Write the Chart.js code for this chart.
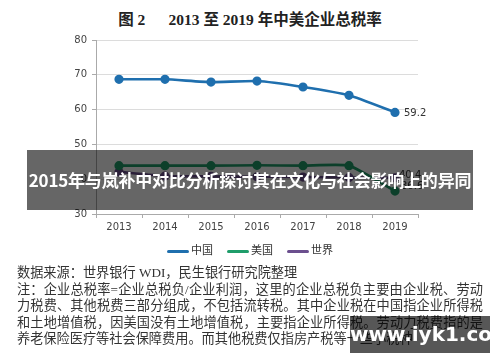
<!DOCTYPE html>
<html><head><meta charset="utf-8">
<script src="https://cdn.jsdelivr.net/npm/chart.js@4"></script>
<style>
html,body{margin:0;padding:0;background:#fff;}
#wrap{position:relative;width:500px;height:362px;overflow:hidden;background:#fff;}
#title{position:absolute;left:0;top:7px;width:500px;text-align:center;font:bold 15.5px "Liberation Serif","Noto Sans CJK SC",serif;color:#222;white-space:pre;}
#cv{position:absolute;left:0;top:0;}
#legend{position:absolute;left:0;top:241px;width:500px;text-align:center;font:11px "Noto Sans CJK SC",sans-serif;color:#333;}
#legend span.it{display:inline-block;margin:0 7px;}
#legend i{display:inline-block;width:22px;height:3px;vertical-align:middle;margin-right:2px;border-radius:2px;}
#notes{position:absolute;left:17px;top:265px;width:466px;font:13.2px "Liberation Serif","Noto Sans CJK SC",serif;color:#333;line-height:16.6px;}
#notes div{white-space:nowrap;text-align:justify;text-align-last:justify;}
#notes div.l{text-align-last:left;}
#banner{position:absolute;left:27px;top:150px;width:446px;height:60px;background:rgba(0,0,0,0.6);color:#fff;font:bold 17px "Noto Sans CJK SC",sans-serif;text-align:center;line-height:60px;white-space:nowrap;letter-spacing:-0.2px;}
#wm{position:absolute;left:350px;top:316px;width:140px;height:37px;background:rgba(0,0,0,0.66);color:#fff;font:bold 20px "DejaVu Sans",sans-serif;text-align:center;line-height:37px;}
</style></head>
<body><div id="wrap">
<div id="title">图 2      2013 至 2019 年中美企业总税率</div>
<canvas id="cv" width="500" height="250"></canvas>
<div id="legend"></div>
<div id="notes">
<div class="l">数据来源：世界银行 WDI，民生银行研究院整理</div>
<div>注：企业总税率=企业总税负/企业利润，这里的企业总税负主要由企业税、劳动</div>
<div>力税费、其他税费三部分组成，不包括流转税。其中企业税在中国指企业所得税</div>
<div>和土地增值税，因美国没有土地增值税，主要指企业所得税。劳动力税费指的是</div>
<div class="l">养老保险医疗等社会保障费用。而其他税费仅指房产税等一些小税种</div>
</div>
<div id="banner">2015年与岚补中对比分析探讨其在文化与社会影响上的异同</div>
<div id="wm">www.iyk1.com</div>
</div>
<script>
const years = ['2013','2014','2015','2016','2017','2018','2019'];
const china = [68.7, 68.7, 67.9, 68.2, 66.5, 64.1, 59.2];
const usa   = [43.9, 43.9, 43.9, 44.0, 43.9, 43.9, 36.6];
const world = [42.1, 40.9, 40.8, 40.7, 40.6, 40.5, 40.4];
const seriesNames = ['中国','美国','世界'];
const colors = ['#1f6fae','#1f9d6a','#6b4f8e'];
const yTicks = [30,40,50,60,70,80];

const lastLabels = {
  id:'lastLabels',
  afterDatasetsDraw(chart){
    const ctx = chart.ctx;
    ctx.save();
    ctx.font = '10px "DejaVu Sans", sans-serif';
    ctx.fillStyle = '#333';
    ctx.textBaseline = 'middle';
    const x = chart.scales.x.getPixelForValue(years.length-1);
    const y = chart.scales.y;
    ctx.fillText(String(china[6]), x+9, y.getPixelForValue(china[6])+1);
    ctx.fillText(String(world[6]), x+4, y.getPixelForValue(world[6])-2);
    ctx.fillText(String(usa[6]), x+6, y.getPixelForValue(usa[6])-5);
    ctx.restore();
  }
};

const dsets = [china, usa, world].map((d,i)=>({
  label: seriesNames[i], data: d, borderColor: colors[i], backgroundColor: colors[i],
  borderWidth: 2.6, pointRadius: 3.3, pointHoverRadius: 3.3, tension: 0.15, fill:false
}));

new Chart(document.getElementById('cv'), {
  type:'line',
  data:{labels: years, datasets: dsets},
  plugins:[lastLabels],
  options:{
    responsive:false, animation:false,
    layout:{padding:{top:40,right:82,left:0,bottom:0}},
    plugins:{legend:{display:false}, tooltip:{enabled:false}},
    scales:{
      x:{
        offset:true,
        grid:{offset:true, drawOnChartArea:false, drawTicks:true, tickLength:4, color:'#aaa'},
        border:{color:'#aaa'},
        ticks:{font:{family:'DejaVu Sans', size:10}, color:'#444', padding:3},
        afterFit(s){ s.height = 36; }
      },
      y:{
        min:30, max:80,
        afterBuildTicks(s){ s.ticks = yTicks.map(v=>({value:v})); },
        grid:{color:'#dcdcdc', drawTicks:true, tickLength:4, tickColor:'#aaa'},
        border:{color:'#aaa'},
        ticks:{font:{family:'DejaVu Sans', size:10}, color:'#444', padding:5},
        afterFit(s){ s.width = 96; }
      }
    }
  }
});

const lg = document.getElementById('legend');
seriesNames.forEach((n,i)=>{
  const s = document.createElement('span'); s.className='it';
  s.innerHTML = '<i style="background:'+colors[i]+'"></i>'+n;
  lg.appendChild(s);
});
</script>
</body></html>
